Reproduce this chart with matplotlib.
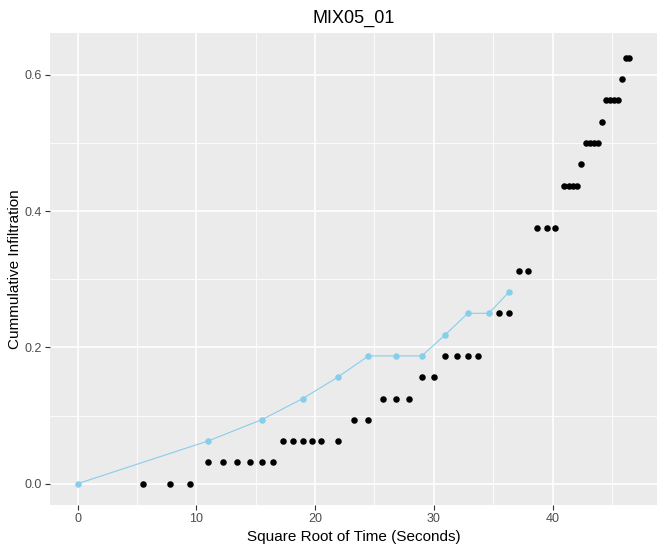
import numpy as np
import matplotlib
matplotlib.use("Agg")
import matplotlib.pyplot as plt
from matplotlib.ticker import MultipleLocator, FormatStrFormatter

# Observed data: time (s) and cumulative infiltration (in 1/32 units)
obs_time = [30, 60, 90,
            120, 150, 180, 210, 240, 270,
            300, 330, 360, 390, 420, 480,
            540, 600,
            660, 720, 780,
            840, 900,
            960, 1020, 1080, 1140,
            1260, 1320,
            1380, 1440,
            1500, 1560, 1620,
            1680, 1710, 1740, 1770,
            1800,
            1830, 1860, 1890, 1920,
            1950,
            1980, 2010, 2040, 2070,
            2100,
            2130, 2160]
obs_k = [0, 0, 0,
         1, 1, 1, 1, 1, 1,
         2, 2, 2, 2, 2, 2,
         3, 3,
         4, 4, 4,
         5, 5,
         6, 6, 6, 6,
         8, 8,
         10, 10,
         12, 12, 12,
         14, 14, 14, 14,
         15,
         16, 16, 16, 16,
         17,
         18, 18, 18, 18,
         19,
         20, 20]

# Fitted / model series
fit_time = [0, 120, 240, 360, 480, 600, 720, 840, 960, 1080, 1200, 1320]
fit_k = [0, 2, 3, 4, 5, 6, 6, 6, 7, 8, 8, 9]

obs_x = np.sqrt(obs_time)
obs_y = np.array(obs_k) / 32.0
fit_x = np.sqrt(fit_time)
fit_y = np.array(fit_k) / 32.0

plt.rcParams['font.family'] = ['Liberation Sans', 'DejaVu Sans']

fig = plt.figure(figsize=(6.65, 5.52), dpi=100)
ax = fig.add_axes([50/665, (552-505)/552, 607/665, 472/552])
ax.set_facecolor('#EBEBEB')

ax.plot(fit_x, fit_y, color='#87CEEB', lw=0.8, zorder=3)
ax.scatter(fit_x, fit_y, s=22, color='#87CEEB', zorder=4, linewidths=0)
ax.scatter(obs_x, obs_y, s=22, color='black', zorder=5, linewidths=0)

allx = np.concatenate([obs_x, fit_x])
ally = np.concatenate([obs_y, fit_y])
dx = (allx.max() - allx.min()) * 0.05
dy = (ally.max() - ally.min()) * 0.05
ax.set_xlim(allx.min() - dx, allx.max() + dx)
ax.set_ylim(ally.min() - dy, ally.max() + dy + 0.005)

ax.xaxis.set_major_locator(MultipleLocator(10))
ax.xaxis.set_minor_locator(MultipleLocator(5))
ax.yaxis.set_major_locator(MultipleLocator(0.2))
ax.yaxis.set_minor_locator(MultipleLocator(0.1))
ax.yaxis.set_major_formatter(FormatStrFormatter('%.1f'))

ax.grid(which='major', color='white', lw=1.2, zorder=0)
ax.grid(which='minor', color='white', lw=0.6, zorder=0)
ax.set_axisbelow(True)
for s in ax.spines.values():
    s.set_visible(False)

ax.tick_params(which='major', length=3.5, width=0.8, color='#333333',
               labelcolor='#4D4D4D', labelsize=9, pad=2.5)
ax.tick_params(which='minor', length=0)

ax.set_xlabel('Square Root of Time (Seconds)', fontsize=11, color='black', labelpad=3)
ax.set_ylabel('Cummulative Infiltration', fontsize=11, color='black', labelpad=2)
ax.set_title('MIX05_01', fontsize=13, color='black', pad=7)

fig.savefig('out.png', dpi=100)
